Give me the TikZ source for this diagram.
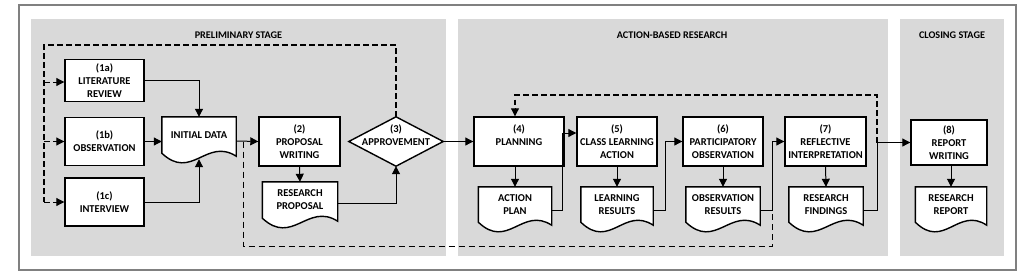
\documentclass[tikz,border=0pt]{standalone}
\usepackage{fontspec}
\setmainfont{Carlito}
\usetikzlibrary{arrows.meta,calc}
\pgfdeclarelayer{bg}
\pgfdeclarelayer{docs}
\pgfsetlayers{bg,docs,main}
\definecolor{panelgray}{RGB}{217,217,217}
\definecolor{framegray}{RGB}{128,128,128}
\newcommand{\mydoc}[1]{%
  \draw[docline] (#1.south west) -- (#1.north west) -- (#1.north east) -- ($(#1.south east)+(0,-3pt)$)
    .. controls ($(#1.south west)!0.6!(#1.south east)+(0,16pt)$) and ($(#1.south west)!0.4!(#1.south east)+(0,-28pt)$) .. (#1.south west) -- cycle;}
\tikzset{
  txt/.style={font=\fontsize{10.5}{13}\selectfont\bfseries, align=center},
  box/.style={txt, draw=black, line width=1.4pt, fill=white, inner sep=1pt},
  docnode/.style={txt, inner sep=0pt},
  docline/.style={draw=black, line width=1.4pt, fill=white},
  titletxt/.style={font=\fontsize{10.2}{12}\selectfont\bfseries},
  arr/.style={line width=1pt, -{Triangle[length=8pt,width=8pt]}},
  conn/.style={line width=1pt},
  dashline/.style={line width=1.5pt, dash pattern=on 5.5pt off 3.5pt},
  dashthin/.style={line width=1pt, dash pattern=on 6pt off 4pt},
}
\begin{document}
\begin{tikzpicture}[x=1pt,y=-1pt]
\useasboundingbox (0,0) rectangle (1035,276);
\begin{pgfonlayer}{bg}
  \draw[framegray, line width=2pt, fill=white] (19,5) rectangle (1016,270);
  \fill[panelgray] (31,19) rectangle (446,256);
  \fill[panelgray] (458,19) rectangle (888,256);
  \fill[panelgray] (900,19) rectangle (1004,256);
\end{pgfonlayer}
% titles
\node[titletxt] (t1) at (238.5,35) {PRELIMINARY STAGE};
\node[titletxt] (t2) at (672,35) {ACTION-BASED RESEARCH};
\node[titletxt] (t3) at (952,35) {CLOSING STAGE};
% preliminary boxes
\node[box, minimum width=79pt, minimum height=42pt] (n1a) at (104.5,80.5) {(1a)\\LITERATURE\\REVIEW};
\node[box, minimum width=79pt, minimum height=48pt] (n1b) at (104.5,141.5) {(1b)\\OBSERVATION};
\node[box, minimum width=79pt, minimum height=48pt] (n1c) at (104.5,202) {(1c)\\INTERVIEW};
\node[docnode, minimum width=74pt, minimum height=36pt] (ninit) at (199,135) {INITIAL DATA};
\node[box, minimum width=81pt, minimum height=49pt] (n2) at (299.5,141.5) {(2)\\PROPOSAL\\WRITING};
\node[docnode, minimum width=75pt, minimum height=36pt] (nrp) at (300,200) {RESEARCH\\PROPOSAL};
\node[txt, inner sep=0pt, minimum width=94pt, minimum height=49pt] (n3) at (396,141.5) {};
\draw[line width=1.4pt, fill=white] (n3.north) -- (n3.east) -- (n3.south) -- (n3.west) -- cycle;
\node[txt] (n3t) at (n3) {(3)\\APPROVEMENT\\\mbox{}};
% action boxes
\node[box, minimum width=90pt, minimum height=49pt] (n4) at (519,141.5) {(4)\\PLANNING\\\mbox{}};
\node[box, minimum width=80pt, minimum height=49pt] (n5) at (617,141.5) {(5)\\CLASS LEARNING\\ACTION};
\node[box, minimum width=80pt, minimum height=49pt] (n6) at (723,141.5) {(6)\\PARTICIPATORY\\OBSERVATION};
\node[box, minimum width=81pt, minimum height=49pt] (n7) at (825.5,141.5) {(7)\\REFLECTIVE\\INTERPRETATION};
\node[docnode, minimum width=73pt, minimum height=35pt] (nap) at (515,204.5) {ACTION\\PLAN};
\node[docnode, minimum width=72pt, minimum height=35pt] (nlr) at (617,204.5) {LEARNING\\RESULTS};
\node[docnode, minimum width=74pt, minimum height=35pt] (nor) at (723,204.5) {OBSERVATION\\RESULTS};
\node[docnode, minimum width=74pt, minimum height=35pt] (nrf) at (826,204.5) {RESEARCH\\FINDINGS};
% closing
\node[box, minimum width=76pt, minimum height=45pt] (n8) at (949,142.5) {(8)\\REPORT\\WRITING};
\node[docnode, minimum width=71pt, minimum height=35pt] (nrr) at (951,204.5) {RESEARCH\\REPORT};
\begin{pgfonlayer}{docs}
  \mydoc{ninit}\mydoc{nrp}\mydoc{nap}\mydoc{nlr}\mydoc{nor}\mydoc{nrf}\mydoc{nrr}
\end{pgfonlayer}
% coordinates
\coordinate (L) at (44,45);
\coordinate (initbot) at ($(ninit.south)+(0,-6pt)$);
\coordinate (dA) at (243,141.5);
\coordinate (j7) at (772,141.5);
\coordinate (j8) at (877,142.5);
% preliminary connectors
\draw[arr] (n1a.east) -| (ninit.north);
\draw[arr] (n1b.east) -- (n1b.east -| ninit.west);
\draw[arr] (n1c.east) -| (initbot);
\draw[arr] ([yshift=-6pt]ninit.east) -- (n2.west);
\draw[arr] (n2.south) -- (nrp.north);
\draw[arr] ([yshift=-3pt]nrp.east) -| (n3.south);
\draw[dashline] (n3.north) |- (L) -- (L |- n1c.west);
\draw[dashline, arr] (L |- n1c.west) -- (n1c.west);
\draw[dashline, arr] (L |- n1b.west) -- (n1b.west);
\draw[dashline, arr] ($(L |- n1a.west)+(0,-1.5pt)$) -- ($(n1a.west)+(0,-1.5pt)$);
\draw[arr] (n3.east) -- (n4.west);
% action connectors
\draw[arr] (n4.south -| nap.north) -- (nap.north);
\draw[arr] (n5.south) -- (nlr.north);
\draw[arr] (n6.south) -- (nor.north);
\draw[arr] (n7.south) -- (nrf.north);
\draw[arr] (n8.south -| nrr.north) -- (nrr.north);
\draw[arr] ([yshift=-5.5pt]nap.east) -| ($(n5.west)+(-14pt,8.5pt)$) -- ([yshift=8.5pt]n5.west);
\draw[arr] ([yshift=-5.5pt]nlr.east) -| ($(n6.west)+(-17pt,0)$) -- (n6.west);
\draw[dashthin] (dA) |- (772,246) -- ([yshift=-5.5pt]nor.east -| j7);
\draw[arr] ([yshift=-5.5pt]nor.east) -| (j7) -- (n7.west);
\draw[conn] ([yshift=-5.5pt]nrf.east) -| (j8);
\draw[arr] (j8) -- (n8.west);
\draw[dashline] (j8) -- (877,95) -| ($(n4.north -| nap.north)+(0,8pt)$);
\draw[dashline, arr] ($(n4.north -| nap.north)+(0,8pt)$) -- (n4.north -| nap.north);
\end{tikzpicture}
\end{document}
